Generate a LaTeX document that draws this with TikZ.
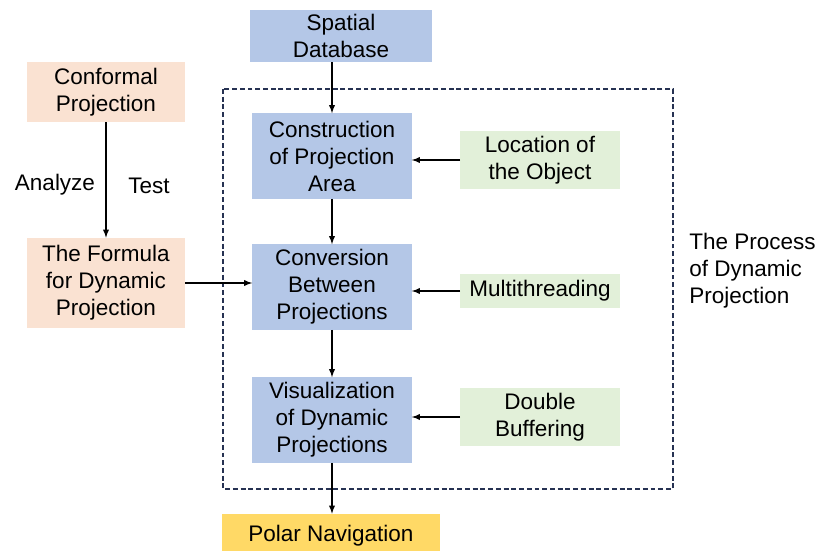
\documentclass[tikz,border=0pt]{standalone}
\usepackage{fontspec}
\setmainfont{Liberation Sans}
\usetikzlibrary{positioning}

\definecolor{boxblue}{RGB}{180,199,231}
\definecolor{boxpeach}{RGB}{250,226,210}
\definecolor{boxgreen}{RGB}{226,240,217}
\definecolor{boxyellow}{RGB}{255,217,102}
\definecolor{frameblue}{RGB}{38,50,82}

\tikzset{
	stepbox/.style={rectangle, fill=boxblue, align=center, inner sep=1pt, minimum width=3.975cm, minimum height=2.125cm},
	sourcebox/.style={rectangle, fill=boxpeach, align=center, inner sep=1pt, minimum width=3.95cm},
	helperbox/.style={rectangle, fill=boxgreen, align=center, inner sep=1pt, minimum width=3.975cm},
	flow/.style={->, line width=1pt, color=black}
}

\begin{document}
\begin{tikzpicture}[x=0.025cm, y=-0.025cm, >=latex, font=\fontsize{16}{19.2}\selectfont]

		\useasboundingbox (0,0) rectangle (816,551);

		% process frame
		\draw[dash pattern=on 3.5pt off 2pt, line width=1.2pt, color=frameblue] (223,89) rectangle (673,489);

		\node[stepbox, minimum width=4.55cm, minimum height=1.3cm](spatialBox) at (341,36){Spatial\\Database};

		\node[sourcebox, minimum height=1.5cm](conformalBox) at (106,92){Conformal\\Projection};
		\node[sourcebox, minimum height=2.25cm](formulaBox) at (106,283){The Formula\\for Dynamic\\Projection};

		\node[stepbox](constructionBox) at (332,156){Construction\\of Projection\\Area};
		\node[stepbox](conversionBox) at (332,287){Conversion\\Between\\Projections};
		\node[stepbox](visualBox) at (332,420){Visualization\\of Dynamic\\Projections};

		\node[helperbox, minimum height=1.425cm](locationBox) at (540,160){Location of\\the Object};
		\node[helperbox, minimum height=0.85cm](threadBox) at (540,291){Multithreading};
		\node[helperbox, minimum height=1.425cm](bufferBox) at (540,417){Double\\Buffering};

		\node[rectangle, fill=boxyellow, minimum width=5.45cm, minimum height=1.1cm](polarBox) at (331,536){Polar Navigation};

		\node[align=left, anchor=west, inner sep=0pt](processLabel) at (689,271){The Process\\of Dynamic\\Projection};

		\node(analyzeLabel) at (55,185){Analyze};
		\node(testLabel) at (149,186){Test};

		\draw [flow] (spatialBox.south -| constructionBox.north) -- (constructionBox.north);
		\draw [flow] (constructionBox.south) -- (conversionBox.north);
		\draw [flow] (conversionBox.south) -- (visualBox.north);
		\draw [flow] (visualBox.south) -- (polarBox.north -| visualBox.south);

		\draw [flow] (conformalBox.south) -- (formulaBox.north);
		\draw [flow] (formulaBox.east) -- (formulaBox.east -| conversionBox.west);

		\draw [flow] (locationBox.west) -- (locationBox.west -| constructionBox.east);
		\draw [flow] (threadBox.west) -- (threadBox.west -| conversionBox.east);
		\draw [flow] (bufferBox.west) -- (bufferBox.west -| visualBox.east);

	\end{tikzpicture}
\end{document}
